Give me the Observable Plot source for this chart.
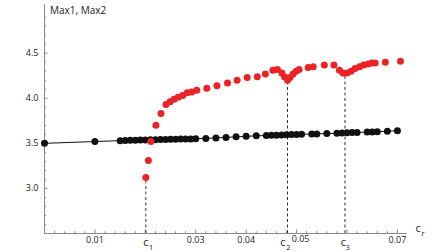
<!DOCTYPE html>
<html><head><meta charset="utf-8">
<script src="https://cdn.jsdelivr.net/npm/d3@7"></script>
<script src="https://cdn.jsdelivr.net/npm/@observablehq/plot@0.6"></script>
<style>body{margin:0;background:#fff}svg{display:block}</style>
</head><body><div id="chart"></div>
<script>
// Black series (Max2)
const blackC = [0, 0.010, 0.015, 0.016, 0.017, 0.018, 0.019, 0.020, 0.021, 0.022, 0.023, 0.024, 0.025, 0.026, 0.027, 0.028, 0.029, 0.030,
  0.032, 0.034, 0.036, 0.038, 0.040, 0.042, 0.044, 0.045, 0.046, 0.047, 0.048, 0.049, 0.050, 0.051, 0.053, 0.054, 0.056, 0.058, 0.059,
  0.060, 0.061, 0.062, 0.064, 0.065, 0.066, 0.068, 0.070];
const blackV = [3.50, 3.52, 3.530, 3.532, 3.533, 3.535, 3.536, 3.538, 3.539, 3.540, 3.542, 3.543, 3.545, 3.546, 3.547, 3.548, 3.549, 3.551,
  3.555, 3.560, 3.566, 3.572, 3.578, 3.583, 3.587, 3.589, 3.591, 3.593, 3.595, 3.597, 3.598, 3.600, 3.603, 3.605, 3.609, 3.613, 3.615,
  3.617, 3.619, 3.621, 3.625, 3.627, 3.629, 3.634, 3.640];
// Red series (Max1)
const redC = [0.0201, 0.0206, 0.0211, 0.0221, 0.0231, 0.0241, 0.0249, 0.0257, 0.0265, 0.0274, 0.0283, 0.0292, 0.0302, 0.0322, 0.0342,
  0.0363, 0.0382, 0.0402, 0.0422, 0.0438, 0.0453, 0.0462, 0.0471, 0.0476, 0.0482, 0.0487, 0.0493, 0.0499, 0.0505, 0.0523,
  0.0533, 0.0555, 0.0574, 0.0585, 0.0592, 0.0600, 0.0608, 0.0616, 0.0625, 0.0633, 0.0642, 0.0649, 0.0656, 0.0676, 0.0706];
const redV = [3.12, 3.31, 3.52, 3.70, 3.83, 3.93, 3.96, 3.99, 4.01, 4.03, 4.06, 4.07, 4.09, 4.11, 4.14,
  4.17, 4.20, 4.23, 4.24, 4.27, 4.31, 4.32, 4.28, 4.24, 4.20, 4.23, 4.27, 4.30, 4.32, 4.34,
  4.35, 4.37, 4.37, 4.31, 4.28, 4.28, 4.30, 4.33, 4.35, 4.37, 4.38, 4.39, 4.39, 4.40, 4.41];
// Critical values
const critC = [0.0201, 0.0482, 0.0596];
const critTop = [3.12, 4.20, 4.26];
const critSub = ["1", "2", "3"];
// Ticks
const xTickLabels = [0.01, 0.03, 0.04, 0.07];
const xShiftedLabel = [0.05];
const xMajor = [0.01, 0.02, 0.03, 0.04, 0.05, 0.06, 0.07];
const xMinor = d3.range(0.002, 0.0715, 0.002).filter(v => Math.abs(v * 100 - Math.round(v * 100)) > 1e-6);
const yTickLabels = [3.0, 3.5, 4.0, 4.5];
const yMinor = d3.range(2.6, 4.95, 0.1).filter(v => Math.abs(v * 2 - Math.round(v * 2)) > 1e-6);
const yLabel = "Max1, Max2";

const black = blackC.map((c, i) => ({c, v: blackV[i]}));
const red = redC.map((c, i) => ({c, v: redV[i]}));
const crit = critC.map((c, i) => ({c, top: critTop[i], sub: critSub[i]}));
const axisCol = "#8a8a8a";

// per-label offsets (style) for the c_i labels
const cOffsets = [[0, 5.2], [-4.5, 0.8], [-1.5, 2.6]];
const critLabelMarks = crit.flatMap((d, i) => [
  Plot.text([d], {x: "c", frameAnchor: "bottom", dx: cOffsets[i][0], dy: 12, text: () => "c", fontSize: 11}),
  Plot.text([d], {x: "c", frameAnchor: "bottom", dx: cOffsets[i][1], dy: 16, text: "sub", fontSize: 7.5})
]);

const chart = Plot.plot({
  width: 448, height: 252,
  marginLeft: 44, marginRight: 41, marginTop: 4, marginBottom: 19,
  x: {domain: [0, 0.072]},
  y: {domain: [2.5, 5.04]},
  style: {fontFamily: "'Open Sans', sans-serif", fontSize: "9px", color: "#222", background: "#fff"},
  marks: [
    Plot.ruleY([2.5], {stroke: axisCol}),
    Plot.ruleX([0], {stroke: axisCol}),
    Plot.ruleX(xMinor, {x: d => d, y1: 2.5, y2: 2.52, stroke: axisCol}),
    Plot.ruleX(xMajor, {x: d => d, y1: 2.5, y2: 2.54, stroke: axisCol}),
    Plot.ruleY(yMinor, {y: d => d, x1: 0, x2: 0.0004, stroke: axisCol}),
    Plot.ruleY(yTickLabels, {y: d => d, x1: 0, x2: 0.0007, stroke: axisCol}),
    Plot.axisX(xTickLabels, {tickSize: 0, tickPadding: 3, tickFormat: d3.format(".2f"), label: null}),
    Plot.axisX(xShiftedLabel, {tickSize: 0, tickPadding: 2, dx: 4, tickFormat: d3.format(".2f"), label: null}),
    Plot.axisY(yTickLabels, {tickSize: 0, tickPadding: 6, tickFormat: d3.format(".1f"), label: null}),
    Plot.ruleX(crit, {x: "c", y1: 2.5, y2: "top", stroke: "#333", strokeDasharray: "3,2.5"}),
    Plot.line(black, {x: "c", y: "v", stroke: "#111", strokeWidth: 1}),
    Plot.dot(black, {x: "c", y: "v", r: 3.5, fill: "#111"}),
    Plot.dot(red, {x: "c", y: "v", r: 3.5, fill: "#ec2227"}),
    ...critLabelMarks,
    Plot.text(["c"], {frameAnchor: "bottom-right", dx: 8, dy: -2, text: d => d, fontSize: 11, textAnchor: "start"}),
    Plot.text(["r"], {frameAnchor: "bottom-right", dx: 14, dy: 2, text: d => d, fontSize: 7.5, textAnchor: "start"}),
    Plot.text([yLabel], {frameAnchor: "top-left", dx: 5.5, dy: 2, text: d => d, fontSize: 10, textAnchor: "start"})
  ]
});
document.getElementById("chart").append(chart);
</script>
</body></html>
